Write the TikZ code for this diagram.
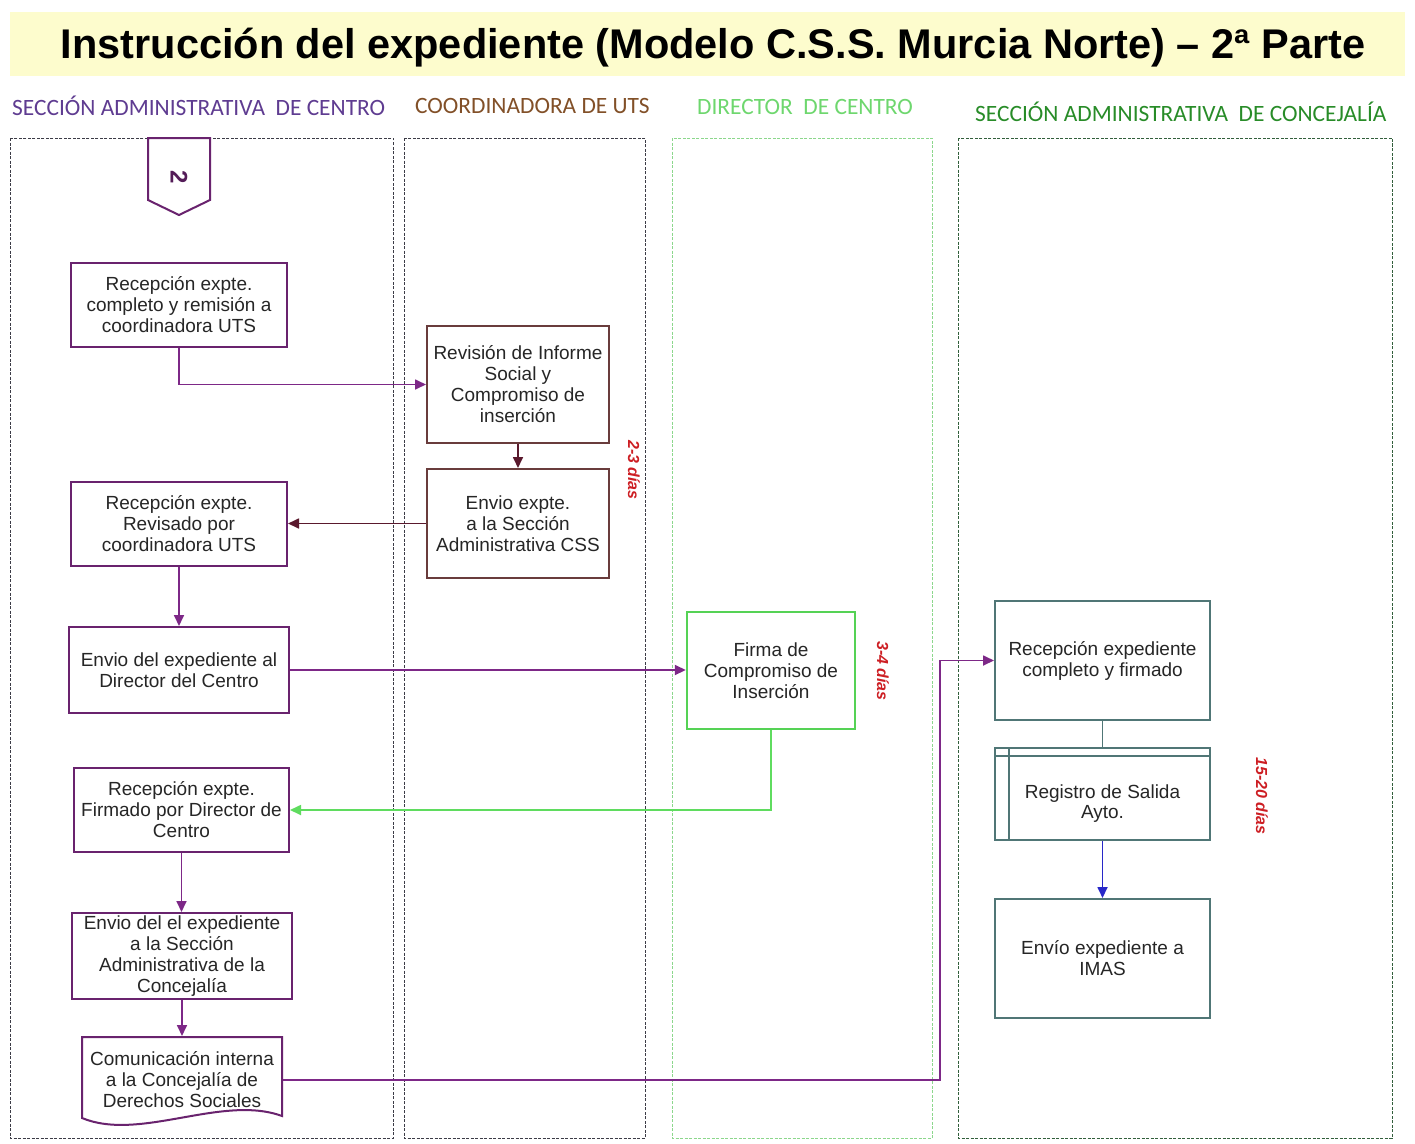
\documentclass[tikz,border=0pt]{standalone}
\usepackage{fontspec}
\setmainfont{Liberation Sans}
\newfontfamily\hdrfont{Carlito}
\usetikzlibrary{arrows.meta}
\definecolor{titlebg}{RGB}{253,252,205}
\definecolor{boxpurple}{RGB}{105,35,110}
\definecolor{linepurple}{RGB}{125,40,135}
\definecolor{boxbrown}{RGB}{105,60,60}
\definecolor{linemaroon}{RGB}{90,25,45}
\definecolor{boxgreen}{RGB}{85,210,85}
\definecolor{linegreen}{RGB}{95,220,95}
\definecolor{boxteal}{RGB}{80,118,118}
\definecolor{lineblue}{RGB}{40,40,200}
\definecolor{diasred}{RGB}{205,30,35}
\definecolor{hdrpurple}{RGB}{95,60,145}
\definecolor{hdrbrown}{RGB}{130,80,40}
\definecolor{hdrlgreen}{RGB}{110,215,110}
\definecolor{hdrdgreen}{RGB}{40,140,40}
\definecolor{lanegreen}{RGB}{140,215,140}
\definecolor{lanedark}{RGB}{60,60,70}
\definecolor{lanedgreen}{RGB}{50,95,60}
\begin{document}
\begin{tikzpicture}[x=1pt,y=-1pt,
  box/.style={draw, line width=2pt, align=center, font=\fontsize{19}{21}\selectfont, text=black!85, inner sep=1pt, fill=white},
  pbox/.style={box, draw=boxpurple},
  cbox/.style={box, draw=boxbrown},
  gbox/.style={box, draw=boxgreen, line width=2.4pt},
  tbox/.style={box, draw=boxteal},
  conn/.style={line width=1.7pt, -{Triangle[length=11pt,width=10pt]}},
  lane/.style={line width=0.9pt, dash pattern=on 3pt off 1.5pt},
  lanehdr/.style={font=\hdrfont\fontsize{23.4}{26}\selectfont, anchor=west, inner sep=0pt},
  dias/.style={font=\bfseries\itshape\fontsize{16}{18}\selectfont, text=diasred, rotate=-90, inner sep=0pt}
]
\useasboundingbox (0,0) rectangle (1415,1143);
\fill[white] (0,0) rectangle (1415,1143);

% title
\fill[titlebg] (10,12) rectangle (1405,76);
\node[font=\bfseries\fontsize{41.5}{44}\selectfont, inner sep=0pt, anchor=base] (title) at (713,58)
  {Instrucción del expediente (Modelo C.S.S. Murcia Norte) – 2ª Parte};

% lane headers
\node[lanehdr, text=hdrpurple] (h1) at (12,106) {SECCIÓN ADMINISTRATIVA\ \ DE CENTRO};
\node[lanehdr, text=hdrbrown] (h2) at (415,106) {COORDINADORA DE UTS};
\node[lanehdr, text=hdrlgreen] (h3) at (697,107) {DIRECTOR\ \ DE CENTRO};
\node[lanehdr, text=hdrdgreen] (h4) at (975,112) {SECCIÓN ADMINISTRATIVA\ \ DE CONCEJALÍA};

% lanes
\draw[lane, draw=lanedark] (10,138) rectangle (393,1138);
\draw[lane, draw=lanedark] (404,138) rectangle (645,1138);
\draw[lane, draw=lanegreen] (672,138) rectangle (932,1138);
\draw[lane, draw=lanedgreen] (958,138) rectangle (1392,1138);

% off-page connector "2"
\draw[line width=2pt, draw=boxpurple, fill=white] (148,138) -- (210,138) -- (210,200) -- (179,215) -- (148,200) -- cycle;
\node[font=\bfseries\fontsize{24}{26}\selectfont, text=boxpurple!80!black, rotate=-90] (p2) at (179,177) {2};

% left lane boxes
\node[pbox, minimum width=216, minimum height=84] (B1) at (179,305)
  {Recepción expte.\\completo y remisión a\\coordinadora UTS};
\node[pbox, minimum width=216, minimum height=84] (B4) at (179,524)
  {Recepción expte.\\Revisado por\\coordinadora UTS};
\node[pbox, minimum width=220, minimum height=86] (B5) at (179,670)
  {Envio del expediente al\\Director del Centro};
\node[pbox, minimum width=215, minimum height=84] (B7) at (181.5,810)
  {Recepción expte.\\Firmado por Director de\\Centro};
\node[pbox, minimum width=220, minimum height=86, inner sep=0pt] (B8) at (182,956)
  {Envio del el expediente\\a la Sección\\Administrativa de la\\Concejalía};
% document shape
\draw[line width=2pt, draw=boxpurple, fill=white] (82,1037) -- (282,1037) -- (282,1116)
  .. controls (222,1094) and (140,1142) .. (82,1118) -- cycle;
\node[box, draw=none, fill=none, minimum width=200, minimum height=86] (B9) at (182,1080)
  {Comunicación interna\\a la Concejalía de\\Derechos Sociales};

% coordinadora boxes
\node[cbox, minimum width=182, minimum height=117] (B2) at (518,384.5)
  {Revisión de Informe\\Social y\\Compromiso de\\inserción};
\node[cbox, minimum width=182, minimum height=109] (B3) at (518,523.5)
  {Envio expte.\\a la Sección\\Administrativa CSS};

% director box
\node[gbox, minimum width=168, minimum height=117] (B6) at (771,670.5)
  {Firma de\\Compromiso de\\Inserción};

% concejalia boxes
\node[tbox, minimum width=215, minimum height=119] (C1) at (1102.5,660.5)
  {Recepción expediente\\completo y firmado};
\node[tbox, minimum width=215, minimum height=92, text depth=0pt] (C2) at (1102.5,794)
  {\raisebox{-4pt}{\begin{tabular}{@{}c@{}}Registro de Salida\\[-1pt]Ayto.\end{tabular}}};
\draw[line width=2pt, draw=boxteal] (C2.north west) ++(15,0) coordinate (c2v) -- (c2v |- C2.south);
\draw[line width=2pt, draw=boxteal] (C2.north west) ++(0,9) coordinate (c2h) -- (c2h -| C2.east);
\node[tbox, minimum width=215, minimum height=119] (C3) at (1102.5,958.5)
  {Envío expediente a\\IMAS};

% duration labels
\node[dias] (d1) at (634,470) {2-3 días};
\node[dias] (d2) at (883,671) {3-4 días};
\node[dias] (d3) at (1262,796) {15-20 días};

% connectors
\draw[conn, draw=linepurple] (B1.south) |- (B2.west);
\draw[conn, draw=linemaroon] (B2.south) -- (B3.north);
\draw[conn, draw=linemaroon] (B3.west) -- (B3.west -| B4.east);
\draw[conn, draw=linepurple] (B4.south) -- (B5.north);
\draw[conn, draw=linepurple] (B5.east) -- (B5.east -| B6.west);
\draw[conn, draw=linegreen] (B6.south) |- (B7.east);
\draw[conn, draw=linepurple] (B7.south) -- (B7.south |- B8.north);
\draw[conn, draw=linepurple] (B8.south) -- (B8.south |- B9.north);
\coordinate (j) at (940,1080);
\draw[conn, draw=linepurple] (B9.east) -| (j |- C1.west) -- (C1.west);
\draw[line width=1.7pt, draw=boxteal] (C1.south) -- (C2.north);
\draw[conn, draw=lineblue] (C2.south) -- (C3.north);
\end{tikzpicture}
\end{document}
